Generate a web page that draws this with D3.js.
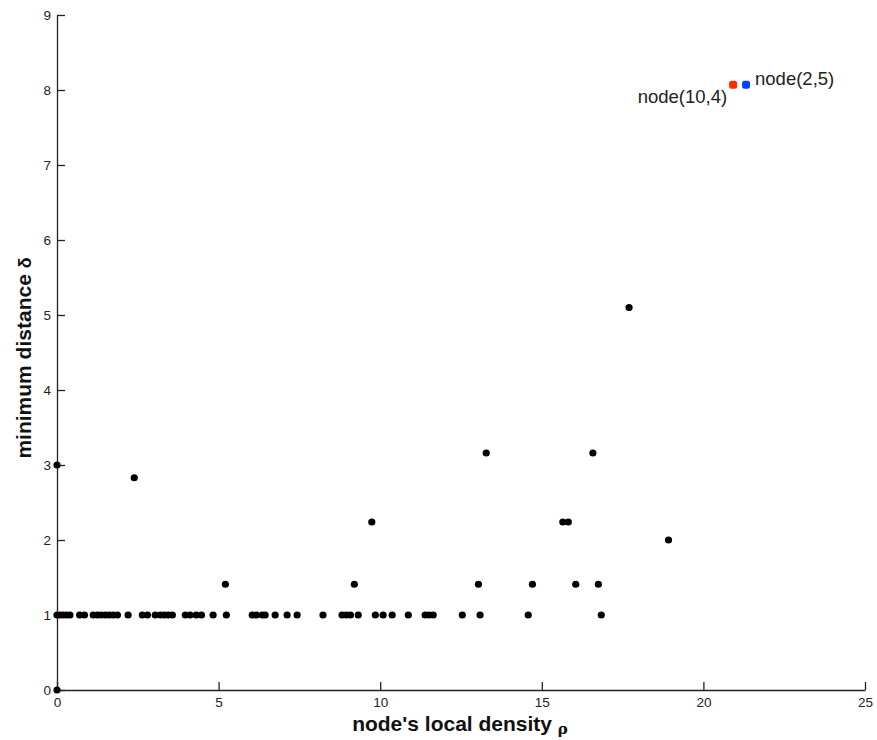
<!DOCTYPE html>
<html>
<head>
<meta charset="utf-8">
<script src="https://cdn.jsdelivr.net/npm/d3@7"></script>
<style>
  body { margin: 0; background: #fff; }
  .axis text { font-family: "Liberation Sans", Arial, sans-serif; font-size: 13.5px; fill: #222; }
  .axis path, .axis line { stroke: #222; stroke-width: 1.3; }
  .lbl { font-family: "Liberation Sans", Arial, sans-serif; font-weight: bold; font-size: 21px; fill: #111; }
  .node-lbl { font-family: "Liberation Sans", Arial, sans-serif; font-size: 18.5px; fill: #222; }
</style>
</head>
<body>
<div id="chart"></div>
<script>
// node's local density (rho) vs minimum distance (delta)
const rho = [
  0, 0, 0.1, 0.2, 0.3, 0.4, 0.7, 0.85, 1.12, 1.25, 1.37, 1.5, 1.62, 1.74, 1.87,
  2.2, 2.64, 2.8, 3.04, 3.2, 3.32, 3.44, 3.57, 3.97, 4.12, 4.31, 4.47, 4.83,
  5.24, 6.04, 6.17, 6.35, 6.44, 6.75, 7.12, 7.43, 8.23, 8.82, 8.95, 9.08, 9.32,
  9.85, 10.09, 10.37, 10.87, 11.39, 11.51, 11.64, 12.54, 13.09, 14.58, 16.84,
  0, 2.39, 5.21, 9.2, 13.04, 14.71, 16.05, 16.75, 9.74, 15.65, 15.82, 18.92,
  13.28, 16.58, 17.7
];
const delta = [
  0, 1, 1, 1, 1, 1, 1, 1, 1, 1, 1, 1, 1, 1, 1,
  1, 1, 1, 1, 1, 1, 1, 1, 1, 1, 1, 1, 1,
  1, 1, 1, 1, 1, 1, 1, 1, 1, 1, 1, 1, 1,
  1, 1, 1, 1, 1, 1, 1, 1, 1, 1, 1,
  3, 2.83, 1.41, 1.41, 1.41, 1.41, 1.41, 1.41, 2.24, 2.24, 2.24, 2,
  3.16, 3.16, 5.1
];
// cluster centres
const centerNames = ["node(10,4)", "node(2,5)"];
const centerRho = [20.92, 21.32];
const centerDelta = [8.07, 8.07];
const centerColors = ["#ff2a00", "#0044ff"];

const xTicks = [0, 5, 10, 15, 20, 25];
const yTicks = [0, 1, 2, 3, 4, 5, 6, 7, 8, 9];

const W = 877, H = 740;
const margin = { top: 15, right: 12, bottom: 50, left: 57 };
const width = W - margin.left - margin.right;
const height = H - margin.top - margin.bottom;

const svg = d3.select("#chart").append("svg")
  .attr("width", W)
  .attr("height", H);

const plot = svg.append("g")
  .attr("transform", `translate(${margin.left},${margin.top})`);

const x = d3.scaleLinear().domain([0, 25]).range([0, width]);
const y = d3.scaleLinear().domain([0, 9]).range([height, 0]);

plot.append("g")
  .attr("class", "axis axis--x")
  .attr("transform", `translate(0,${height})`)
  .call(d3.axisBottom(x).tickValues(xTicks).tickSizeInner(-8).tickSizeOuter(0).tickPadding(10))
  .call(g => g.selectAll(".tick text").attr("dy", "0.5em"));

plot.append("g")
  .attr("class", "axis axis--y")
  .call(d3.axisLeft(y).tickValues(yTicks).tickSizeInner(-8).tickSizeOuter(0).tickPadding(6));

// data points
const pts = rho.map((d, i) => ({ x: d, y: delta[i] }));
plot.selectAll(".dot")
  .data(pts)
  .enter().append("circle")
  .attr("class", "dot")
  .attr("cx", d => x(d.x))
  .attr("cy", d => y(d.y))
  .attr("r", 3.6)
  .attr("fill", "#000");

// centres
plot.selectAll(".center")
  .data(centerNames)
  .enter().append("rect")
  .attr("class", "center")
  .attr("x", (d, i) => x(centerRho[i]) - 4)
  .attr("y", (d, i) => y(centerDelta[i]) - 4)
  .attr("width", 8)
  .attr("height", 8)
  .attr("rx", 2.5)
  .attr("fill", (d, i) => centerColors[i]);

plot.append("text")
  .attr("class", "node-lbl")
  .attr("x", x(centerRho[0]) - 6)
  .attr("y", y(centerDelta[0]) + 18)
  .attr("text-anchor", "end")
  .text(centerNames[0]);

plot.append("text")
  .attr("class", "node-lbl")
  .attr("x", x(centerRho[1]) + 9)
  .attr("y", y(centerDelta[1]) + 0)
  .text(centerNames[1]);

// axis labels
const xl = svg.append("text")
  .attr("class", "lbl")
  .attr("x", 460)
  .attr("y", 731)
  .attr("text-anchor", "middle");
xl.append("tspan").text("node's local density ");
xl.append("tspan").text("ρ")
  .attr("font-family", "DejaVu Serif, serif")
  .attr("font-size", 15)
  .attr("dy", 3);

const yl = svg.append("text")
  .attr("class", "lbl")
  .attr("transform", "translate(31,358) rotate(-90)")
  .attr("text-anchor", "middle");
yl.append("tspan").text("minimum distance ");
yl.append("tspan").text("δ")
  .attr("font-size", 18);
</script>
</body>
</html>
